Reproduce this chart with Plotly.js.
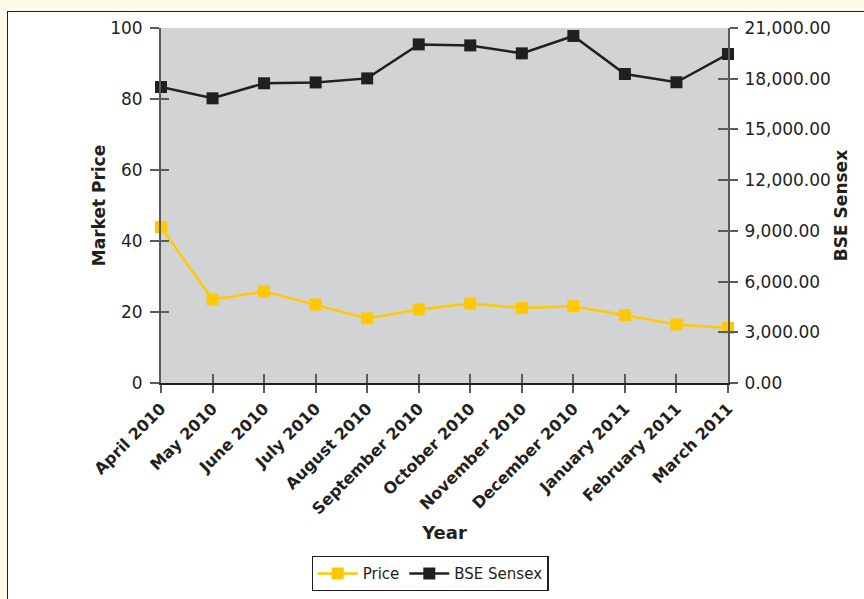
<!DOCTYPE html>
<html>
<head>
<meta charset="utf-8">
<script src="https://cdn.plot.ly/plotly-3.0.1.min.js"></script>
<style>
  html, body { margin: 0; padding: 0; background: #fffbe8; width: 864px; height: 599px; overflow: hidden; }
  #box { position: absolute; left: 7px; top: 11px; width: 870px; height: 600px; background: #ffffff; border: 1.5px solid #231f20; }
  #chart { position: absolute; left: 0; top: 0; width: 864px; height: 599px; }
</style>
</head>
<body>
<div id="box"></div>
<div id="chart"></div>
<script>
const months = ['April 2010', 'May 2010', 'June 2010', 'July 2010', 'August 2010', 'September 2010',
  'October 2010', 'November 2010', 'December 2010', 'January 2011', 'February 2011', 'March 2011'];
const price = [43.9, 23.5, 25.8, 22.1, 18.2, 20.7, 22.4, 21.1, 21.6, 19.1, 16.5, 15.5];
const sensex = [17510, 16840, 17730, 17780, 18020, 20030, 19970, 19500, 20530, 18280, 17790, 19460];
const leftTicks = [0, 20, 40, 60, 80, 100];
const rightTicks = [0, 3000, 6000, 9000, 12000, 15000, 18000, 21000];

const FONT = 'DejaVu Sans, sans-serif';
const TXT = '#231f20';
const AX = '#5a5a5a';

const traces = [
  {
    x: months, y: price, name: 'Price', type: 'scatter', mode: 'lines+markers',
    line: {color: '#ffc800', width: 2.5},
    marker: {symbol: 'square', size: 12, color: '#ffc800'},
    cliponaxis: false, xaxis: 'x', yaxis: 'y'
  },
  {
    x: months, y: sensex, name: 'BSE Sensex', type: 'scatter', mode: 'lines+markers',
    line: {color: '#231f20', width: 2.5},
    marker: {symbol: 'square', size: 12, color: '#231f20'},
    cliponaxis: false, xaxis: 'x', yaxis: 'y2'
  },
  { x: [], y: [], xaxis: 'x2', yaxis: 'y3', showlegend: false, hoverinfo: 'skip' },
  { x: [], y: [], xaxis: 'x2', yaxis: 'y4', showlegend: false, hoverinfo: 'skip' }
];

const layout = {
  width: 864, height: 599,
  margin: {l: 161, r: 136, t: 28, b: 216},
  paper_bgcolor: 'rgba(0,0,0,0)',
  plot_bgcolor: '#d2d3d5',
  font: {family: FONT, color: TXT},
  showlegend: true,
  legend: {
    orientation: 'h', xref: 'container', yref: 'container',
    x: 0.4977, xanchor: 'center', y: 0.0718, yanchor: 'top',
    bgcolor: '#ffffff', bordercolor: '#231f20', borderwidth: 1.2, itemwidth: 40,
    font: {family: FONT, size: 15, color: TXT}, traceorder: 'normal'
  },
  xaxis: {
    type: 'category', range: [0, 11], showgrid: false, zeroline: false,
    showline: true, linecolor: '#231f20', linewidth: 2,
    ticks: 'outside', ticklen: 8, tickcolor: AX, tickwidth: 2, automargin: false,
    tickangle: -45, tickfont: {family: FONT, size: 16, color: TXT, weight: 'bold'},
    title: {text: 'Year', font: {family: FONT, size: 18, color: TXT, weight: 'bold'}, standoff: 9}
  },
  xaxis2: {
    overlaying: 'x', range: [0, 11], tickvals: [0,1,2,3,4,5,6,7,8,9,10,11],
    showticklabels: false, showgrid: false, zeroline: false, showline: false,
    ticks: 'inside', ticklen: 9, tickcolor: AX, tickwidth: 2, anchor: 'y3'
  },
  yaxis: {
    range: [0, 100], tickvals: leftTicks, showgrid: false, zeroline: false,
    showline: true, linecolor: AX, linewidth: 2, automargin: false,
    ticks: 'outside', ticklen: 9, tickcolor: AX, tickwidth: 2, ticklabelstandoff: 4,
    tickfont: {family: FONT, size: 17, color: TXT},
    title: {text: 'Market Price', font: {family: FONT, size: 17, color: TXT, weight: 'bold'}, standoff: 0}
  },
  yaxis2: {
    overlaying: 'y', side: 'right', range: [0, 21000], tickvals: rightTicks,
    tickformat: ',.2f', showgrid: false, zeroline: false, automargin: false,
    showline: true, linecolor: AX, linewidth: 2,
    ticks: 'outside', ticklen: 8, tickcolor: AX, tickwidth: 2, ticklabelstandoff: 3,
    tickfont: {family: FONT, size: 17, color: TXT},
    title: {text: 'BSE Sensex', font: {family: FONT, size: 17, color: TXT, weight: 'bold'}, standoff: 0}
  },
  yaxis3: {
    overlaying: 'y', side: 'left', range: [0, 100], tickvals: leftTicks, anchor: 'x2',
    showticklabels: false, showgrid: false, zeroline: false, showline: false,
    ticks: 'inside', ticklen: 8, tickcolor: AX, tickwidth: 2
  },
  yaxis4: {
    overlaying: 'y', side: 'right', range: [0, 21000], tickvals: rightTicks, anchor: 'x2',
    showticklabels: false, showgrid: false, zeroline: false, showline: false,
    ticks: 'inside', ticklen: 10, tickcolor: AX, tickwidth: 2
  }
};

Plotly.newPlot('chart', traces, layout, {displayModeBar: false, staticPlot: true});
</script>
</body>
</html>
